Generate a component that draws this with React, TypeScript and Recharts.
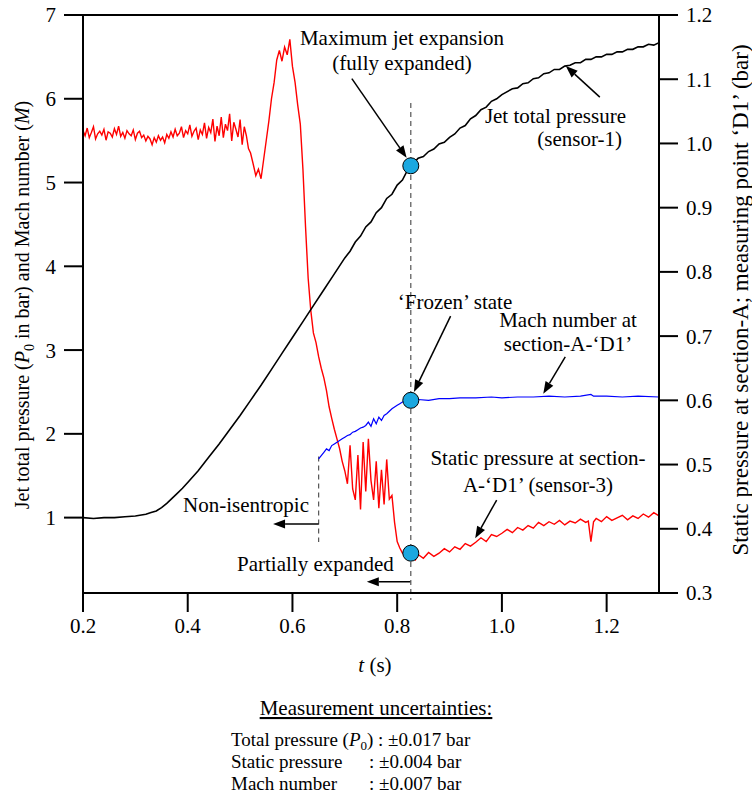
import { LineChart, Line, XAxis, YAxis, ReferenceLine, ReferenceDot } from 'recharts';

const FONT = '"Liberation Serif", "Times New Roman", Times, serif';

const xTicks = [0.2, 0.4, 0.6, 0.8, 1.0, 1.2];
const leftTicks = [1, 2, 3, 4, 5, 6, 7];
const rightTicks = [0.3, 0.4, 0.5, 0.6, 0.7, 0.8, 0.9, 1.0, 1.1, 1.2];

// jet total pressure P0 (sensor-1), left axis, bar  [t, value]
const jetTotal: [number, number][] = [
  [0.2, 1.0], [0.22, 0.99], [0.24, 1.0], [0.26, 1.0], [0.28, 1.01], [0.3, 1.02],
  [0.32, 1.04], [0.33, 1.06], [0.34, 1.08], [0.35, 1.12], [0.36, 1.17], [0.37, 1.23],
  [0.38, 1.29], [0.39, 1.35], [0.4, 1.42], [0.42, 1.56], [0.44, 1.72], [0.46, 1.88],
  [0.48, 2.05], [0.5, 2.22], [0.52, 2.4], [0.54, 2.58], [0.56, 2.77], [0.58, 2.96],
  [0.6, 3.15], [0.62, 3.34], [0.64, 3.53], [0.66, 3.72], [0.68, 3.91], [0.7, 4.1],
  [0.71, 4.18], [0.72, 4.29], [0.73, 4.36], [0.74, 4.47], [0.75, 4.53], [0.76, 4.64],
  [0.77, 4.70], [0.78, 4.81], [0.79, 4.86], [0.8, 4.97], [0.81, 5.03], [0.82, 5.15],
  [0.826, 5.2], [0.83, 5.22], [0.84, 5.29], [0.85, 5.31], [0.86, 5.37], [0.87, 5.40],
  [0.88, 5.46], [0.89, 5.48], [0.9, 5.54], [0.91, 5.58], [0.92, 5.65], [0.93, 5.68],
  [0.94, 5.76], [0.95, 5.80], [0.96, 5.87], [0.97, 5.90], [0.98, 5.97], [0.99, 6.00],
  [1.0, 6.05], [1.02, 6.12], [1.03, 6.13], [1.04, 6.18], [1.05, 6.19], [1.06, 6.24],
  [1.07, 6.25], [1.08, 6.30], [1.09, 6.31], [1.1, 6.35], [1.11, 6.35], [1.12, 6.39],
  [1.13, 6.40], [1.14, 6.43], [1.15, 6.43], [1.16, 6.47], [1.17, 6.47], [1.18, 6.50],
  [1.19, 6.50], [1.2, 6.53], [1.21, 6.53], [1.22, 6.56], [1.23, 6.56], [1.24, 6.59],
  [1.25, 6.59], [1.26, 6.62], [1.27, 6.62], [1.28, 6.65], [1.29, 6.64], [1.3, 6.67],
];

// static pressure at section-A 'D1' (sensor-3), right axis, bar
const staticPressure: [number, number][] = [
  [0.2, 1.02], [0.204, 1.012], [0.208, 1.024], [0.212, 1.009], [0.216, 1.017], [0.22, 1.026],
  [0.224, 1.007], [0.228, 1.015], [0.232, 1.019], [0.236, 1.013], [0.24, 1.022], [0.244, 1.005],
  [0.248, 1.018], [0.252, 1.016], [0.256, 1.01], [0.26, 1.023], [0.264, 1.014], [0.268, 1.027],
  [0.272, 1.011], [0.276, 1.017], [0.28, 1.008], [0.284, 1.02], [0.288, 1.015], [0.292, 1.012],
  [0.296, 1.021], [0.3, 1.006], [0.304, 1.016], [0.308, 1.019], [0.312, 1.009], [0.316, 1.013],
  [0.32, 1.004], [0.324, 1.011], [0.328, 1.007], [0.332, 0.998], [0.336, 1.009], [0.34, 1.002],
  [0.344, 1.012], [0.348, 1.005], [0.352, 1.01], [0.356, 1.001], [0.36, 1.014], [0.364, 1.008],
  [0.368, 1.018], [0.372, 1.01], [0.376, 1.022], [0.38, 1.012], [0.384, 1.016], [0.388, 1.026],
  [0.392, 1.009], [0.396, 1.02], [0.4, 1.015], [0.404, 1.029], [0.408, 1.011], [0.412, 1.019],
  [0.416, 1.024], [0.42, 1.006], [0.424, 1.021], [0.428, 1.014], [0.432, 1.032], [0.436, 1.008],
  [0.44, 1.025], [0.444, 1.017], [0.448, 1.038], [0.452, 1.003], [0.456, 1.027], [0.46, 1.012],
  [0.464, 1.041], [0.468, 1.009], [0.472, 1.03], [0.476, 1.02], [0.48, 1.046], [0.484, 1.004],
  [0.488, 1.033], [0.492, 1.022], [0.496, 1.01], [0.5, 1.037], [0.504, 0.998], [0.508, 1.026],
  [0.512, 1.012], [0.516, 0.992], [0.52, 0.985], [0.525, 0.968], [0.53, 0.95], [0.535, 0.96],
  [0.54, 0.945], [0.545, 0.975], [0.55, 1.005], [0.555, 1.035], [0.56, 1.07], [0.565, 1.095],
  [0.57, 1.13], [0.575, 1.145], [0.58, 1.128], [0.585, 1.15], [0.59, 1.138], [0.595, 1.162],
  [0.6, 1.12], [0.605, 1.095], [0.61, 1.06], [0.615, 1.03], [0.62, 0.96], [0.625, 0.87],
  [0.63, 0.79], [0.635, 0.74], [0.64, 0.705], [0.645, 0.69], [0.65, 0.668], [0.655, 0.65],
  [0.66, 0.635], [0.665, 0.615], [0.67, 0.59], [0.675, 0.572], [0.68, 0.555], [0.685, 0.54],
  [0.69, 0.525], [0.695, 0.505], [0.7, 0.49], [0.705, 0.47], [0.71, 0.53], [0.715, 0.462],
  [0.72, 0.445], [0.725, 0.515], [0.73, 0.43], [0.735, 0.535], [0.74, 0.458], [0.745, 0.54],
  [0.75, 0.475], [0.755, 0.445], [0.76, 0.505], [0.765, 0.432], [0.77, 0.492], [0.775, 0.438],
  [0.78, 0.508], [0.785, 0.446], [0.79, 0.452], [0.795, 0.41], [0.8, 0.38], [0.805, 0.37],
  [0.81, 0.362], [0.815, 0.358], [0.82, 0.364], [0.825, 0.355], [0.83, 0.36], [0.835, 0.352],
  [0.84, 0.36], [0.85, 0.354], [0.86, 0.363], [0.87, 0.357], [0.88, 0.362], [0.89, 0.369],
  [0.9, 0.364], [0.91, 0.372], [0.92, 0.368], [0.93, 0.377], [0.94, 0.373], [0.95, 0.379],
  [0.96, 0.386], [0.97, 0.38], [0.98, 0.391], [0.99, 0.388], [1.0, 0.393], [1.01, 0.399],
  [1.02, 0.394], [1.03, 0.402], [1.04, 0.398], [1.05, 0.405], [1.06, 0.401], [1.07, 0.41],
  [1.08, 0.405], [1.09, 0.411], [1.1, 0.407], [1.11, 0.413], [1.12, 0.406], [1.13, 0.412],
  [1.14, 0.409], [1.15, 0.415], [1.16, 0.41], [1.165, 0.412], [1.17, 0.38], [1.175, 0.411],
  [1.18, 0.416], [1.19, 0.411], [1.2, 0.419], [1.21, 0.413], [1.22, 0.417], [1.23, 0.421],
  [1.24, 0.414], [1.25, 0.42], [1.26, 0.416], [1.27, 0.423], [1.28, 0.418], [1.29, 0.425],
  [1.3, 0.42],
];

// Mach number at section-A 'D1', left axis
const machNumber: [number, number][] = [
  [0.65, 1.7], [0.655, 1.74], [0.66, 1.78], [0.665, 1.82], [0.67, 1.8], [0.675, 1.86],
  [0.68, 1.88], [0.685, 1.9], [0.69, 1.92], [0.695, 1.94], [0.7, 1.96], [0.705, 1.98],
  [0.71, 1.99], [0.715, 2.02], [0.72, 2.03], [0.725, 2.05], [0.73, 2.07], [0.735, 2.08],
  [0.74, 2.1], [0.745, 2.14], [0.75, 2.09], [0.755, 2.18], [0.76, 2.12], [0.765, 2.2],
  [0.77, 2.16], [0.775, 2.22], [0.78, 2.24], [0.785, 2.27], [0.79, 2.3], [0.795, 2.32],
  [0.8, 2.34], [0.805, 2.36], [0.81, 2.38], [0.815, 2.39], [0.82, 2.4], [0.826, 2.4],
  [0.84, 2.41], [0.86, 2.4], [0.88, 2.42], [0.9, 2.42], [0.92, 2.43], [0.95, 2.43],
  [0.98, 2.44], [1.0, 2.43], [1.03, 2.44], [1.06, 2.44], [1.09, 2.45], [1.12, 2.44],
  [1.15, 2.45], [1.17, 2.47], [1.175, 2.45], [1.2, 2.45], [1.23, 2.44], [1.26, 2.45],
  [1.3, 2.44],
];

// state markers at t = 0.826 s
const markerTime = 0.826;
const markerJet = 5.2;
const markerMach = 2.4;
const markerStatic = 0.362;

// annotation arrows, left-axis units: [from, to]
const arrows: [[number, number], [number, number]][] = [
  [[0.7134, 6.24], [0.818, 5.296]],
  [[1.187, 6.02], [1.122, 6.39]],
  [[0.902, 3.405], [0.832, 2.5]],
  [[1.121, 2.92], [1.079, 2.48]],
  [[0.99, 1.21], [0.949, 0.753]],
  [[0.65, 0.923], [0.563, 0.923]],
  [[0.825, 0.235], [0.742, 0.235]],
];

const toRows = (pts: [number, number][]) => pts.map(([t, v]) => ({ t, v }));

function Arrow(props: any) {
  const { x1, y1, x2, y2 } = props;
  const dx = x2 - x1;
  const dy = y2 - y1;
  const len = Math.hypot(dx, dy) || 1;
  const ux = dx / len;
  const uy = dy / len;
  const hl = 12;
  const hw = 4.5;
  const bx = x2 - ux * hl;
  const by = y2 - uy * hl;
  const pts = `${x2},${y2} ${bx - uy * hw},${by + ux * hw} ${bx + uy * hw},${by - ux * hw}`;
  return (
    <g>
      <line x1={x1} y1={y1} x2={bx} y2={by} stroke="#000" strokeWidth={1.5} />
      <polygon points={pts} fill="#000" />
    </g>
  );
}

const tickStyle = { fill: '#000', fontSize: 21, fontFamily: FONT };
const axisStyle = { stroke: '#000', strokeWidth: 2 };

export default function App() {
  return (
    <div style={{ position: 'absolute', left: 0, top: 0, width: 752, height: 798, background: '#fff' }}>
      <LineChart width={752} height={640} margin={{ top: 15, right: 0, bottom: 0, left: 0 }}>
        <XAxis
          type="number"
          dataKey="t"
          domain={[0.2, 1.3]}
          allowDataOverflow
          ticks={xTicks}
          tickFormatter={(v: number) => v.toFixed(1)}
          tick={tickStyle}
          tickSize={19}
          tickMargin={6}
          axisLine={axisStyle}
          tickLine={axisStyle}
          height={47}
        />
        <YAxis
          yAxisId="left"
          type="number"
          domain={[0.1, 7]}
          allowDataOverflow
          ticks={leftTicks}
          tick={tickStyle}
          tickSize={19}
          tickMargin={8}
          axisLine={axisStyle}
          tickLine={axisStyle}
          width={83}
        />
        <YAxis
          yAxisId="right"
          orientation="right"
          type="number"
          domain={[0.3, 1.2]}
          allowDataOverflow
          ticks={rightTicks}
          tickFormatter={(v: number) => v.toFixed(1)}
          tick={tickStyle}
          tickSize={19}
          tickMargin={8}
          axisLine={axisStyle}
          tickLine={axisStyle}
          width={93}
        />
        <ReferenceLine yAxisId="left" y={7} stroke="#000" strokeWidth={2} />
        <ReferenceLine
          yAxisId="left"
          segment={[{ x: markerTime, y: 5.95 }, { x: markerTime, y: 0.016 }]}
          stroke="#555"
          strokeWidth={1.2}
          strokeDasharray="5 4"
          ifOverflow="visible"
        />
        <ReferenceLine
          yAxisId="left"
          segment={[{ x: 0.65, y: 1.73 }, { x: 0.65, y: 0.71 }]}
          stroke="#555"
          strokeWidth={1.2}
          strokeDasharray="5 4"
          ifOverflow="visible"
        />
        <Line
          yAxisId="right"
          data={toRows(staticPressure)}
          dataKey="v"
          stroke="#ff0000"
          strokeWidth={1.4}
          dot={false}
          isAnimationActive={false}
        />
        <Line
          yAxisId="left"
          data={toRows(jetTotal)}
          dataKey="v"
          stroke="#000"
          strokeWidth={1.6}
          dot={false}
          isAnimationActive={false}
        />
        <Line
          yAxisId="left"
          data={toRows(machNumber)}
          dataKey="v"
          stroke="#0000ff"
          strokeWidth={1.2}
          dot={false}
          isAnimationActive={false}
        />
        {arrows.map((a, i) => (
          <ReferenceLine
            key={i}
            yAxisId="left"
            segment={[{ x: a[0][0], y: a[0][1] }, { x: a[1][0], y: a[1][1] }]}
            shape={<Arrow />}
            ifOverflow="visible"
          />
        ))}
        <ReferenceDot yAxisId="left" x={markerTime} y={markerJet} r={8} fill="#1ba8e0" stroke="#000" strokeWidth={1} />
        <ReferenceDot yAxisId="left" x={markerTime} y={markerMach} r={8} fill="#1ba8e0" stroke="#000" strokeWidth={1} />
        <ReferenceDot yAxisId="right" x={markerTime} y={markerStatic} r={8} fill="#1ba8e0" stroke="#000" strokeWidth={1} />
      </LineChart>
      <svg
        width={752}
        height={798}
        style={{ position: 'absolute', left: 0, top: 0, pointerEvents: 'none' }}
        fontFamily={FONT}
        fontSize={21}
        fill="#000"
      >
        <text x={402} y={45} textAnchor="middle">Maximum jet expansion</text>
        <text x={402} y={70} textAnchor="middle">(fully expanded)</text>
        <text x={626} y={123} textAnchor="end">Jet total pressure</text>
        <text x={622} y={146} textAnchor="end">(sensor-1)</text>
        <text x={455} y={309} textAnchor="middle">‘Frozen’ state</text>
        <text x={568} y={327} textAnchor="middle">Mach number at</text>
        <text x={568} y={351} textAnchor="middle">section-A-‘D1’</text>
        <text x={538} y={465} textAnchor="middle">Static pressure at section-</text>
        <text x={538} y={492} textAnchor="middle">A-‘D1’ (sensor-3)</text>
        <text x={309} y={512} textAnchor="end">Non-isentropic</text>
        <text x={237} y={571}>Partially expanded</text>
        <text x={375} y={672} textAnchor="middle">
          <tspan fontStyle="italic">t</tspan> (s)
        </text>
        <text transform="translate(29,305) rotate(-90)" textAnchor="middle" fontSize={20}>
          Jet total pressure (<tspan fontStyle="italic">P</tspan>
          <tspan fontSize={14} dy={5}>0</tspan>
          <tspan dy={-5}> in bar) and Mach number (</tspan>
          <tspan fontStyle="italic">M</tspan>)
        </text>
        <text transform="translate(748,300) rotate(-90)" textAnchor="middle" fontSize={23}>
          Static pressure at section-A; measuring point ‘D1’ (bar)
        </text>
        <text x={376} y={715} textAnchor="middle" textDecoration="underline">
          Measurement uncertainties:
        </text>
        <g fontSize={19}>
          <text x={231} y={746}>
            Total pressure (<tspan fontStyle="italic">P</tspan>
            <tspan fontSize={13} dy={4}>0</tspan>
            <tspan dy={-4}>) : ±0.017 bar</tspan>
          </text>
          <text x={231} y={768}>Static pressure</text>
          <text x={369} y={768}>: ±0.004 bar</text>
          <text x={231} y={790}>Mach number</text>
          <text x={369} y={790}>: ±0.007 bar</text>
        </g>
      </svg>
    </div>
  );
}
